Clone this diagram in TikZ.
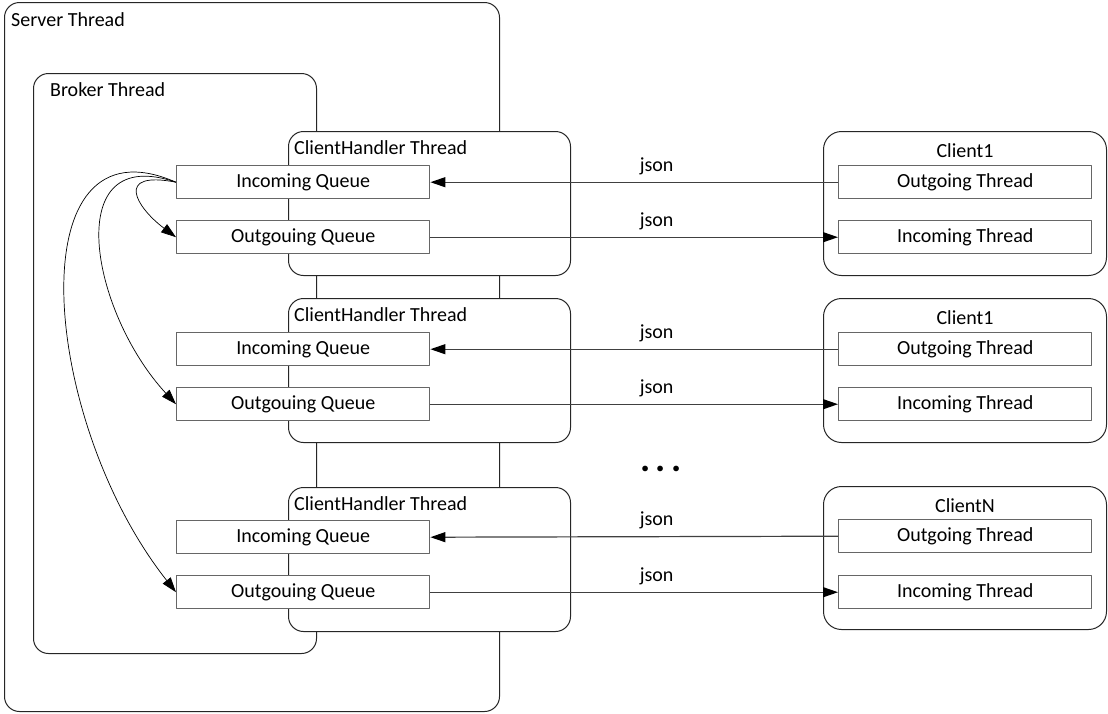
\documentclass[tikz,border=0pt]{standalone}
\usepackage{fontspec}
\setmainfont{Carlito}
\usetikzlibrary{arrows.meta}
\tikzset{
  thread/.style={draw=black!85, line width=1pt, rounded corners=15pt, fill=white, anchor=north west, inner sep=0pt},
  queue/.style={draw=black!60, line width=1.4pt, fill=white, anchor=north west, inner sep=0pt, minimum width=253pt, minimum height=33pt},
  title/.style={anchor=base west, inner sep=0pt},
  jsonlbl/.style={anchor=base, inner sep=0pt, yshift=11pt},
  wire/.style={->, draw=black!75, line width=1.2pt},
  loop/.style={->, line width=0.7pt}
}
\begin{document}
\begin{tikzpicture}[x=1pt, y=-1pt, font=\fontsize{20}{24}\selectfont, line join=round, >={Triangle[length=15pt,width=10pt,color=black]}]
  \useasboundingbox (0,0) rectangle (1108,713);
  % server side
  \node[thread, minimum width=495pt, minimum height=709pt] (server) at (4,2) {};
  \node[title] (serverlbl) at (11,26) {Server Thread};
  \node[thread, minimum width=283pt, minimum height=580pt] (broker) at (33,73) {};
  \node[title] (brokerlbl) at (50,96) {Broker Thread};
  \node[thread, minimum width=282pt, minimum height=144pt] (ch1) at (288,131) {};
  \node[thread, minimum width=282pt, minimum height=144pt] (ch2) at (288,298) {};
  \node[thread, minimum width=282pt, minimum height=144pt] (ch3) at (288,487) {};
  \node[title] (ch1lbl) at ([xshift=6pt,yshift=-23pt]ch1.north west) {ClientHandler Thread};
  \node[title] (ch2lbl) at ([xshift=6pt,yshift=-23pt]ch2.north west) {ClientHandler Thread};
  \node[title] (ch3lbl) at ([xshift=6pt,yshift=-23pt]ch3.north west) {ClientHandler Thread};
  \node[queue] (iq1) at (176,165) {Incoming Queue};
  \node[queue] (oq1) at (176,220) {Outgouing Queue};
  \node[queue] (iq2) at (176,332) {Incoming Queue};
  \node[queue] (oq2) at (176,387) {Outgouing Queue};
  \node[queue] (iq3) at (176,520) {Incoming Queue};
  \node[queue] (oq3) at (176,575) {Outgouing Queue};
  % clients
  \node[thread, rounded corners=18pt, minimum width=283pt, minimum height=144pt] (client1) at (823,131) {};
  \node[thread, rounded corners=18pt, minimum width=283pt, minimum height=144pt] (client2) at (823,298) {};
  \node[thread, rounded corners=18pt, minimum width=283pt, minimum height=143pt] (client3) at (823,486) {};
  \node[anchor=base, inner sep=0pt] (c1lbl) at ([yshift=-26pt]client1.north) {Client1};
  \node[anchor=base, inner sep=0pt] (c2lbl) at ([yshift=-26pt]client2.north) {Client1};
  \node[anchor=base, inner sep=0pt] (c3lbl) at ([yshift=-26pt]client3.north) {ClientN};
  \node[queue] (ot1) at (838,165) {Outgoing Thread};
  \node[queue] (it1) at (838,220) {Incoming Thread};
  \node[queue] (ot2) at (838,332) {Outgoing Thread};
  \node[queue] (it2) at (838,387) {Incoming Thread};
  \node[queue] (ot3) at (838,519) {Outgoing Thread};
  \node[queue] (it3) at (838,575) {Incoming Thread};
  \node[anchor=base, inner sep=0pt] (dots) at (661,471) {\fontsize{38}{38}\selectfont\bfseries .\kern5pt.\kern5pt.};
  % json links
  \draw[wire] (ot1.west) -- node[jsonlbl, pos=0.445] (j1) {json} (iq1.east);
  \draw[wire] (oq1.east) -- node[jsonlbl, pos=0.555] (j2) {json} (it1.west);
  \draw[wire] (ot2.west) -- node[jsonlbl, pos=0.445] (j3) {json} (iq2.east);
  \draw[wire] (oq2.east) -- node[jsonlbl, pos=0.555] (j4) {json} (it2.west);
  \draw[wire] (ot3.west) -- node[jsonlbl, pos=0.445] (j5) {json} (iq3.east);
  \draw[wire] (oq3.east) -- node[jsonlbl, pos=0.555] (j6) {json} (it3.west);
  % broker loops
  \draw[loop] (iq1.west) .. controls +(-62,-12) and +(-40,-30) .. (oq1.west);
  \draw[loop] (iq1.west) .. controls +(-116,-40) and +(-86,-93) .. (oq2.west);
  \draw[loop] (iq1.west) .. controls +(-160,-70) and +(-136,-172) .. (oq3.west);
\end{tikzpicture}
\end{document}
